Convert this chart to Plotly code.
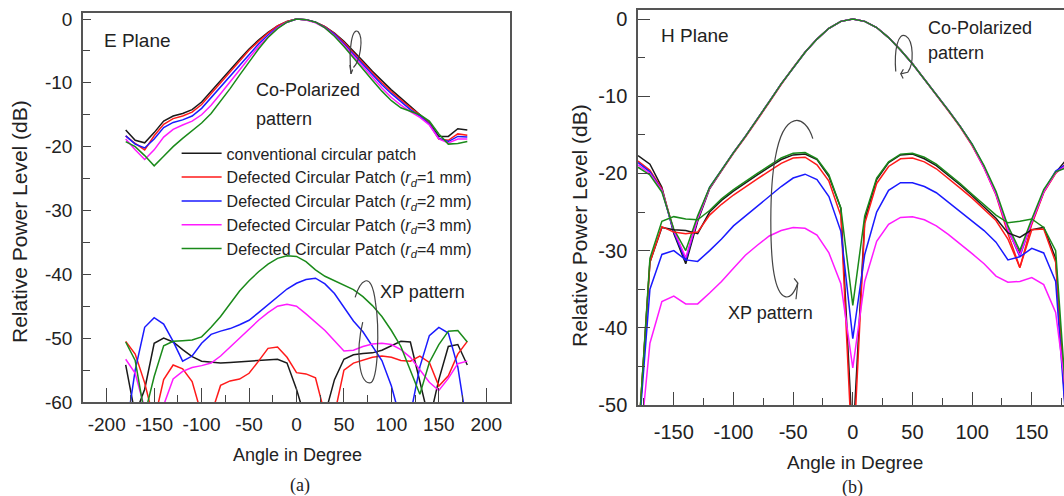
import plotly.graph_objects as go

# ---------------- data ----------------
angles = [-180, -170, -160, -150, -140, -130, -120, -110, -100, -90, -80, -70, -60, -50, -40, -30, -20, -10,
          0, 10, 20, 30, 40, 50, 60, 70, 80, 90, 100, 110, 120, 130, 140, 150, 160, 170, 180]

series_names = [
    "conventional circular patch",
    "Defected Circular Patch (<i>r</i><sub><i>d</i></sub>=1 mm)",
    "Defected Circular Patch (<i>r</i><sub><i>d</i></sub>=2 mm)",
    "Defected Circular Patch (<i>r</i><sub><i>d</i></sub>=3 mm)",
    "Defected Circular Patch (<i>r</i><sub><i>d</i></sub>=4 mm)",
]
colors = ["#1a1a1a", "#ff1a1a", "#1a1aff", "#ff1aff", "#1a8a1a"]

# E plane, co-polarized
e_co_conv = [-17.4, -19.0, -19.4, -17.8, -16.0, -15.2, -14.8, -14.2, -13.0, -11.3, -9.6, -8.0, -6.3, -4.7, -3.3, -2.1, -1.1, -0.4,
             0, -0.1, -0.5, -1.2, -2.2, -3.5, -5.0, -6.6, -8.2, -9.7, -11.1, -12.4, -13.7, -14.9, -16.3, -18.4, -18.4, -17.2, -17.4]
e_co_rd1 = [-18.3, -19.5, -20.5, -18.3, -16.5, -15.6, -15.2, -14.6, -13.4, -11.7, -10.0, -8.3, -6.6, -4.9, -3.5, -2.2, -1.1, -0.4,
            0, -0.1, -0.5, -1.2, -2.3, -3.7, -5.3, -6.9, -8.5, -10.0, -11.4, -12.7, -13.9, -15.0, -16.4, -18.8, -19.0, -18.0, -18.2]
e_co_rd2 = [-18.3, -19.6, -20.2, -18.8, -17.0, -16.2, -15.8, -15.2, -14.0, -12.3, -10.6, -8.9, -7.2, -5.5, -3.9, -2.5, -1.3, -0.5,
            0, -0.1, -0.5, -1.3, -2.4, -3.9, -5.5, -7.1, -8.8, -10.3, -11.7, -13.0, -14.2, -15.2, -16.5, -18.7, -19.2, -18.4, -18.5]
e_co_rd3 = [-18.8, -20.5, -22.0, -20.5, -18.5, -17.3, -16.6, -16.0, -15.0, -13.5, -11.7, -9.9, -8.0, -6.1, -4.3, -2.8, -1.4, -0.5,
            0, -0.15, -0.6, -1.4, -2.6, -4.1, -5.8, -7.5, -9.2, -10.8, -12.3, -13.5, -14.5, -15.4, -16.6, -18.8, -19.4, -18.8, -18.8]
e_co_rd4 = [-19.2, -20.0, -21.4, -23.0, -21.5, -20.0, -18.7, -17.5, -16.3, -14.8, -12.9, -10.9, -8.8, -6.7, -4.7, -2.9, -1.5, -0.5,
            0, -0.1, -0.5, -1.4, -2.7, -4.3, -6.1, -7.9, -9.6, -11.3, -12.8, -13.9, -14.5, -15.0, -16.0, -18.0, -19.6, -19.5, -19.2]

# E plane, cross-polarized (XP)
e_xp_conv = [-54.2, -62.0, -58.0, -50.8, -50.0, -50.6, -51.8, -52.9, -53.6, -53.8, -53.9, -53.8, -53.7, -53.6, -53.4, -53.3, -53.3, -53.9,
             -58.0, -63.0, -64.0, -62.0, -56.5, -53.3, -52.6, -52.4, -52.3, -51.9, -51.2, -50.5, -50.6, -57.0, -63.0, -56.5, -51.3, -51.0, -54.2]
e_xp_rd1 = [-50.5, -52.5, -57.0, -63.0, -56.5, -54.2, -54.8, -56.8, -62.0, -62.0, -57.4, -56.7, -56.4, -55.5, -53.6, -51.6, -51.4, -53.0,
            -55.4, -55.6, -56.2, -62.0, -62.0, -55.0, -53.9, -53.4, -53.0, -52.8, -53.0, -53.5, -53.6, -52.8, -53.8, -57.5, -55.9, -52.5, -50.5]
e_xp_rd2 = [-65.0, -55.0, -48.3, -46.8, -47.8, -50.5, -53.6, -52.8, -50.8, -49.4, -48.9, -48.5, -47.9, -47.2, -46.0, -44.8, -43.5, -42.3,
            -41.4, -40.8, -40.6, -41.5, -43.0, -45.2, -47.3, -49.0, -51.2, -53.5, -57.5, -63.0, -62.0, -54.5, -49.6, -48.3, -49.2, -54.5, -64.0]
e_xp_rd3 = [-53.3, -55.5, -61.0, -64.0, -60.5, -56.4, -55.2, -54.6, -54.3, -53.9, -52.8, -51.4, -50.0, -48.6, -47.2, -46.0, -45.0, -44.7,
            -45.0, -46.2, -47.5, -48.8, -50.4, -52.0, -51.9, -51.3, -50.9, -50.8, -51.0, -51.8, -53.0, -55.0, -56.9, -58.2, -56.3, -54.0, -53.6]
e_xp_rd4 = [-50.6, -53.5, -62.0, -56.0, -51.2, -50.5, -50.4, -50.3, -49.8, -48.3, -46.6, -44.6, -42.6, -41.0, -39.6, -38.4, -37.5, -37.1,
            -37.2, -38.0, -39.3, -40.3, -41.0, -41.7, -42.4, -43.5, -44.9, -46.6, -48.8, -51.3, -55.0, -58.8, -53.8, -51.0, -48.9, -48.8, -50.6]

# H plane, co-polarized
h_co_conv = [-17.7, -18.8, -21.8, -27.8, -31.7, -26.2, -22.0, -19.6, -17.3, -15.2, -13.0, -10.7, -8.4, -6.3, -4.3, -2.6, -1.2, -0.3,
             0, -0.3, -1.1, -2.4, -4.0, -5.8, -7.8, -9.7, -11.8, -13.9, -16.3, -19.2, -22.6, -27.4, -30.4, -26.4, -22.4, -19.9, -18.0]
h_co_rd1 = [-18.4, -19.6, -22.0, -27.4, -31.2, -25.8, -21.9, -19.6, -17.4, -15.3, -13.1, -10.8, -8.5, -6.3, -4.3, -2.6, -1.2, -0.3,
            0, -0.3, -1.1, -2.4, -4.0, -5.8, -7.8, -9.8, -11.9, -14.0, -16.4, -19.3, -22.8, -27.8, -32.2, -26.6, -22.5, -20.0, -18.5]
h_co_rd2 = [-18.6, -19.8, -22.2, -27.6, -31.3, -25.8, -21.8, -19.5, -17.3, -15.2, -13.0, -10.7, -8.4, -6.3, -4.3, -2.6, -1.2, -0.3,
            0, -0.3, -1.1, -2.4, -4.0, -5.8, -7.8, -9.7, -11.8, -13.9, -16.2, -19.1, -22.6, -27.2, -30.8, -26.2, -22.3, -19.7, -18.7]
h_co_rd3 = [-18.9, -20.0, -22.2, -27.4, -30.9, -25.9, -21.9, -19.6, -17.3, -15.2, -13.0, -10.7, -8.4, -6.3, -4.3, -2.6, -1.2, -0.3,
            0, -0.3, -1.1, -2.4, -4.0, -5.8, -7.8, -9.7, -11.8, -13.9, -16.3, -19.3, -22.7, -27.3, -30.6, -26.3, -22.4, -19.9, -18.9]
h_co_rd4 = [-19.2, -20.2, -22.4, -27.2, -30.0, -25.5, -21.8, -19.5, -17.3, -15.2, -13.0, -10.7, -8.4, -6.3, -4.3, -2.6, -1.2, -0.3,
            0, -0.3, -1.1, -2.4, -4.0, -5.8, -7.8, -9.7, -11.8, -13.9, -16.2, -19.0, -22.3, -26.8, -30.0, -25.9, -22.1, -19.8, -19.2]

# H plane, cross-polarized (XP)
h_xp_conv = [-55.0, -31.5, -27.0, -27.3, -27.4, -27.8, -25.0, -23.5, -22.3, -21.2, -20.2, -19.2, -18.2, -17.6, -17.5, -18.2, -20.4, -24.5,
             -55.0, -26.0, -20.8, -18.6, -17.6, -17.5, -18.1, -19.0, -20.2, -21.5, -22.9, -24.3, -25.8, -27.7, -28.3, -27.3, -27.0, -31.0, -55.0]
h_xp_rd1 = [-55.0, -31.5, -26.9, -27.6, -27.8, -27.6, -25.4, -24.0, -22.8, -21.7, -20.7, -19.7, -18.7, -18.0, -17.9, -18.9, -21.0, -25.5,
            -58.0, -26.5, -21.3, -19.1, -18.1, -18.0, -18.5, -19.4, -20.6, -21.9, -23.2, -24.6, -26.1, -28.5, -32.2, -27.3, -27.2, -31.5, -55.0]
h_xp_rd2 = [-55.0, -35.0, -30.5, -30.0, -31.2, -31.4, -30.0, -28.5, -26.8, -25.5, -24.3, -22.9, -21.7, -20.6, -20.1, -20.8, -23.0, -27.5,
            -41.4, -30.5, -25.0, -22.2, -21.2, -21.2, -21.7, -22.5, -23.7, -25.0, -26.2, -27.4, -28.9, -31.2, -30.8, -29.7, -30.3, -34.0, -55.0]
h_xp_rd3 = [-58.0, -42.0, -36.6, -35.9, -36.9, -36.9, -35.5, -34.0, -32.3, -30.6, -29.3, -28.1, -27.4, -27.0, -27.1, -28.0, -30.3, -34.3,
            -45.2, -34.0, -28.8, -26.6, -25.7, -25.6, -26.0, -26.8, -27.9, -29.1, -30.4, -31.7, -33.3, -34.1, -34.0, -33.5, -34.4, -38.0, -50.0]
h_xp_rd4 = [-55.0, -31.0, -26.2, -25.6, -25.9, -26.0, -24.8, -23.3, -22.1, -21.0, -20.0, -19.0, -18.0, -17.4, -17.3, -18.1, -20.2, -24.5,
            -37.1, -25.5, -20.6, -18.5, -17.5, -17.4, -17.9, -18.8, -20.0, -21.3, -22.7, -24.0, -25.4, -26.4, -26.2, -25.9, -27.0, -30.0, -52.0]

e_co = [e_co_conv, e_co_rd1, e_co_rd2, e_co_rd3, e_co_rd4]
e_xp = [e_xp_conv, e_xp_rd1, e_xp_rd2, e_xp_rd3, e_xp_rd4]
h_co = [h_co_conv, h_co_rd1, h_co_rd2, h_co_rd3, h_co_rd4]
h_xp = [h_xp_conv, h_xp_rd1, h_xp_rd2, h_xp_rd3, h_xp_rd4]

# tick labels
e_x_ticks = [-200, -150, -100, -50, 0, 50, 100, 150, 200]
e_x_minor = [-225, -175, -125, -75, -25, 25, 75, 125, 175, 225]
e_y_ticks = [0, -10, -20, -30, -40, -50, -60]
e_y_minor = [-5, -15, -25, -35, -45, -55]
h_x_ticks = [-150, -100, -50, 0, 50, 100, 150]
h_x_minor = [-175, -125, -75, -25, 25, 75, 125, 175]
h_y_ticks = [0, -10, -20, -30, -40, -50]
h_y_minor = [-5, -15, -25, -35, -45]

FONT = "Arial, 'Liberation Sans', sans-serif"
TXT = "#222222"
LW = 1.5

fig = go.Figure()

for i in range(5):
    fig.add_trace(go.Scatter(x=angles, y=e_co[i], mode="lines", name=series_names[i],
                             line=dict(color=colors[i], width=LW), legendgroup=str(i),
                             showlegend=True, xaxis="x", yaxis="y"))
for i in range(5):
    fig.add_trace(go.Scatter(x=angles, y=e_xp[i], mode="lines", name=series_names[i],
                             line=dict(color=colors[i], width=LW), legendgroup=str(i),
                             showlegend=False, xaxis="x", yaxis="y"))
for i in range(5):
    fig.add_trace(go.Scatter(x=angles, y=h_co[i], mode="lines", name=series_names[i],
                             line=dict(color=colors[i], width=LW), legendgroup=str(i),
                             showlegend=False, xaxis="x2", yaxis="y2"))
for i in range(5):
    fig.add_trace(go.Scatter(x=angles, y=h_xp[i], mode="lines", name=series_names[i],
                             line=dict(color=colors[i], width=LW), legendgroup=str(i),
                             showlegend=False, xaxis="x2", yaxis="y2"))


def tick_text(vals):
    return [str(v) for v in vals]


W, H = 1064, 496
axis_common = dict(showgrid=False, zeroline=False, showline=True, linecolor="#555555", linewidth=1.5,
                   ticks="inside", tickcolor="#444444", tickwidth=1.3, tickmode="array", automargin=False)

fig.update_layout(
    width=W, height=H,
    margin=dict(l=0, r=0, t=0, b=0, autoexpand=False),
    paper_bgcolor="white", plot_bgcolor="white",
    font=dict(family=FONT, color=TXT),
    showlegend=True,
    legend=dict(x=0.166, y=0.725, xanchor="left", yanchor="top", bgcolor="rgba(0,0,0,0)",
                font=dict(size=16, color=TXT, family=FONT), tracegroupgap=0, itemwidth=40),
    xaxis=dict(axis_common, domain=[83 / W, 510 / W], range=[-225, 225], anchor="y", mirror=True,
               tickvals=e_x_ticks, ticktext=tick_text(e_x_ticks), ticklen=14, ticklabelstandoff=4,
               tickfont=dict(size=19, color=TXT),
               minor=dict(ticks="inside", tickvals=e_x_minor, ticklen=7, tickcolor="#444444", tickwidth=1.3)),
    yaxis=dict(axis_common, domain=[1 - 402 / H, 1 - 13 / H], range=[-60, 0.94], anchor="x", mirror=True,
               tickvals=e_y_ticks, ticktext=tick_text(e_y_ticks), ticklen=8, ticklabelstandoff=5,
               tickfont=dict(size=19, color=TXT),
               minor=dict(ticks="inside", tickvals=e_y_minor, ticklen=7, tickcolor="#444444", tickwidth=1.3)),
    xaxis2=dict(axis_common, domain=[638 / W, 1.0], range=[-180, 177], anchor="y2", mirror=True,
                tickvals=h_x_ticks, ticktext=tick_text(h_x_ticks), ticklen=13, ticklabelstandoff=8,
                tickfont=dict(size=20, color=TXT),
                minor=dict(ticks="inside", tickvals=h_x_minor, ticklen=7, tickcolor="#444444", tickwidth=1.3)),
    yaxis2=dict(axis_common, domain=[1 - 405 / H, 1 - 10 / H], range=[-50, 1.17], anchor="x2", mirror=False,
                tickvals=h_y_ticks, ticktext=tick_text(h_y_ticks), ticklen=12, ticklabelstandoff=5,
                tickfont=dict(size=20, color=TXT),
                minor=dict(ticks="inside", tickvals=h_y_minor, ticklen=7, tickcolor="#444444", tickwidth=1.3)),
)

# ---------------- annotations ----------------
ann = []


def add_text(text, x, y, xref, yref, size, xanchor="left", family=FONT, angle=0):
    ann.append(dict(text=text, x=x, y=y, xref=xref, yref=yref, showarrow=False, xanchor=xanchor,
                    yanchor="middle", textangle=angle, font=dict(size=size, color=TXT, family=family)))


add_text("E Plane", -205, -3.3, "x", "y", 19)
add_text("Co-Polarized", -45, -11.1, "x", "y", 18)
add_text("pattern", -45, -15.6, "x", "y", 18)
add_text("XP pattern", 86, -42.7, "x", "y", 18)
add_text("H Plane", -162, -2.1, "x2", "y2", 19)
add_text("Co-Polarized", 61, -1.2, "x2", "y2", 18)
add_text("pattern", 61, -4.4, "x2", "y2", 18)
add_text("XP pattern", -106, -38.1, "x2", "y2", 18)

add_text("Angle in Degree", 297 / W, 1 - 455 / H, "paper", "paper", 18, xanchor="center")
add_text("Angle in Degree", 855 / W, 1 - 462 / H, "paper", "paper", 19, xanchor="center")
add_text("Relative Power Level (dB)", 20 / W, 1 - 222 / H, "paper", "paper", 21, xanchor="center", angle=-90)
add_text("Relative Power Level (dB)", 580 / W, 1 - 226 / H, "paper", "paper", 21, xanchor="center", angle=-90)
add_text("(a)", 300 / W, 1 - 485 / H, "paper", "paper", 18, xanchor="center",
         family="'Liberation Serif', 'Times New Roman', serif")
add_text("(b)", 852 / W, 1 - 487 / H, "paper", "paper", 18, xanchor="center",
         family="'Liberation Serif', 'Times New Roman', serif")
fig.update_layout(annotations=ann)

# ---------------- callout loops / arrows ----------------
loop_line = dict(color="#444444", width=1.2)
shapes = [
    # E plane co-pol loop
    dict(type="path", xref="x", yref="y", line=loop_line,
         path="M 60,-7.6 C 67,-6.6 71,-3.0 65,-2.0 C 59,-1.2 54.5,-4.5 57.5,-8.6"),
    dict(type="path", xref="x", yref="y", line=loop_line,
         path="M 56.2,-7.2 L 57.5,-8.6 L 59.2,-7.9"),
    # E plane XP loop
    dict(type="path", xref="x", yref="y", line=loop_line,
         path="M 61.8,-43.6 C 66.3,-41.3 78.6,-38.8 83.2,-44.4 C 87.4,-48.1 86.5,-57.4 76.8,-57.0 "
              "C 66.3,-56.9 62.1,-52.2 69.8,-47.5"),
    # H plane co-pol loop
    dict(type="path", xref="x2", yref="y2", line=loop_line,
         path="M 36,-6.8 C 34.5,-4 38,-1.6 44.4,-2.2 C 51,-2.8 51.5,-5.8 46,-6.9 L 40.2,-7.1"),
    dict(type="path", xref="x2", yref="y2", line=loop_line,
         path="M 42.4,-6.5 L 40.2,-7.1 L 42.2,-7.7"),
    # H plane XP arrow
    dict(type="path", xref="x2", yref="y2", line=loop_line,
         path="M -33.5,-15.5 C -40,-12.2 -58,-11.8 -65,-18 C -70,-22 -69.5,-30 -66,-33 C -62,-36.5 -52,-37 -46.1,-34.2"),
    dict(type="path", xref="x2", yref="y2", line=loop_line,
         path="M -49.2,-33.6 L -46.1,-34.2 L -47.6,-36.3"),
]
fig.update_layout(shapes=shapes)

fig.write_html("out.html", config={"displayModeBar": False},
               post_script="document.body.style.margin='0';document.body.style.overflow='hidden';")
